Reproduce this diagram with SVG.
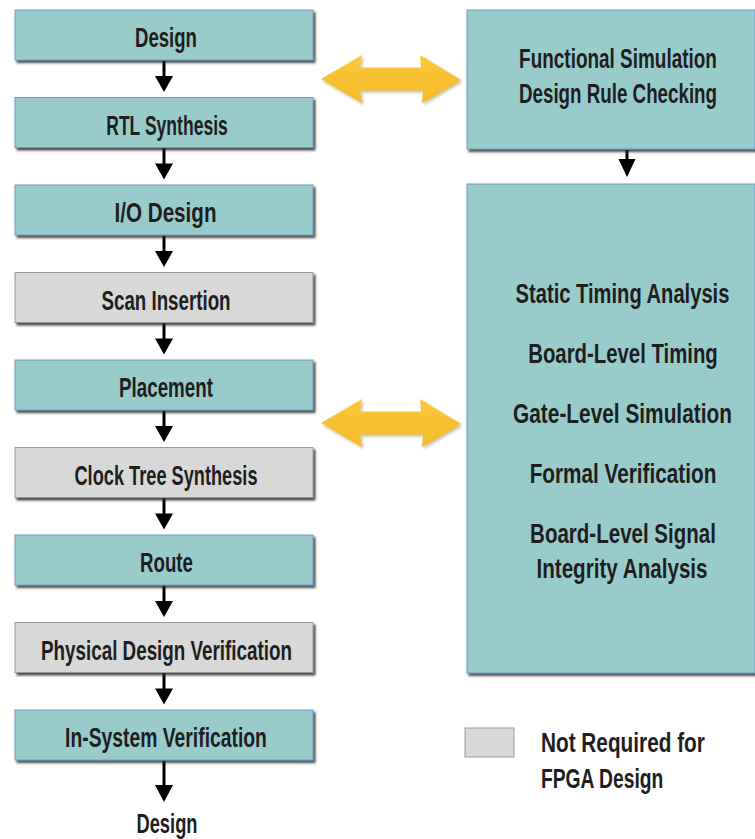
<svg xmlns="http://www.w3.org/2000/svg" width="755" height="839" viewBox="0 0 755 839">
  <defs>
    <filter id="shadow" x="-5%" y="-10%" width="115%" height="130%">
      <feDropShadow dx="2" dy="2.5" stdDeviation="1" flood-color="#2a2a2a" flood-opacity="0.85"/>
    </filter>
    <filter id="softShadow" x="-10%" y="-20%" width="120%" height="150%">
      <feDropShadow dx="1.5" dy="2" stdDeviation="1.5" flood-color="#7a6a30" flood-opacity="0.45"/>
    </filter>
    <linearGradient id="gold" x1="0" y1="0" x2="0" y2="1">
      <stop offset="0" stop-color="#fcc83a"/>
      <stop offset="1" stop-color="#f4b928"/>
    </linearGradient>
  </defs>
  <style>
    .teal { fill: #99cbcb; stroke: #6f9cc4; stroke-width: 1; }
    .grey { fill: #d8d8d8; stroke: #9a9a9a; stroke-width: 1; }
    .box { filter: url(#shadow); }
    /* condensed look: regular sans squeezed horizontally per label */
    .lbl { font-family: "Liberation Sans", Arial, sans-serif; font-weight: bold; font-size: 28px; fill: #1e1e1e; }
    .mid { text-anchor: middle; }
    .flow line { stroke: #000; stroke-width: 3; }
    .flow polygon { fill: #000; }
    .dbl { fill: url(#gold); filter: url(#softShadow); }
  </style>

  <rect width="755" height="839" fill="#ffffff"/>

  <!-- connectors -->
  <g id="connectors" class="flow">
    <line x1="164" y1="60" x2="164" y2="77"/>
    <polygon points="155,76 173,76 164,92"/>
    <line x1="164" y1="147.5" x2="164" y2="164.5"/>
    <polygon points="155,163.5 173,163.5 164,179.5"/>
    <line x1="164" y1="235" x2="164" y2="252"/>
    <polygon points="155,251 173,251 164,267"/>
    <line x1="164" y1="322.5" x2="164" y2="339.5"/>
    <polygon points="155,338.5 173,338.5 164,354.5"/>
    <line x1="164" y1="410" x2="164" y2="427"/>
    <polygon points="155,426 173,426 164,442"/>
    <line x1="164" y1="497.5" x2="164" y2="514.5"/>
    <polygon points="155,513.5 173,513.5 164,529.5"/>
    <line x1="164" y1="585" x2="164" y2="602"/>
    <polygon points="155,601 173,601 164,617"/>
    <line x1="164" y1="672.5" x2="164" y2="689.5"/>
    <polygon points="155,688.5 173,688.5 164,704.5"/>
    <line x1="164" y1="760" x2="164" y2="786"/>
    <polygon points="155,785 173,785 164,802"/>
    <!-- between the two verification panels -->
    <line x1="627" y1="150" x2="627" y2="160"/>
    <polygon points="618.5,159 635.5,159 627,177"/>
    <!-- two-way links to the verification panels -->
    <path class="dbl" d="M321,79 L362,55 L360,67.5 L421,67.5 L420,55 L461,80 L422,103 L423,90.5 L360,90.5 L362,103 Z"/>
    <path class="dbl" transform="translate(0,344)" d="M321,79 L362,55 L360,67.5 L421,67.5 L420,55 L461,80 L422,103 L423,90.5 L360,90.5 L362,103 Z"/>
  </g>

  <!-- design flow steps -->
  <g id="design">
    <rect class="teal box" x="15" y="10" width="298" height="50"/>
    <text class="lbl mid" transform="translate(166,47) scale(0.664,1)">Design</text>
  </g>
  <g id="rtl-synthesis">
    <rect class="teal box" x="15" y="97.5" width="298" height="50"/>
    <text class="lbl mid" transform="translate(167,134.5) scale(0.627,1)">RTL Synthesis</text>
  </g>
  <g id="io-design">
    <rect class="teal box" x="15" y="185" width="298" height="50"/>
    <text class="lbl mid" transform="translate(165.5,222) scale(0.737,1)">I/O Design</text>
  </g>
  <g id="scan-insertion">
    <rect class="grey box" x="15" y="272.5" width="298" height="50"/>
    <text class="lbl mid" transform="translate(166,309.5) scale(0.669,1)">Scan Insertion</text>
  </g>
  <g id="placement">
    <rect class="teal box" x="15" y="360" width="298" height="50"/>
    <text class="lbl mid" transform="translate(166,397) scale(0.671,1)">Placement</text>
  </g>
  <g id="clock-tree-synthesis">
    <rect class="grey box" x="15" y="447.5" width="298" height="50"/>
    <text class="lbl mid" transform="translate(166,484.5) scale(0.65,1)">Clock Tree Synthesis</text>
  </g>
  <g id="route">
    <rect class="teal box" x="15" y="535" width="298" height="50"/>
    <text class="lbl mid" transform="translate(166.5,572) scale(0.668,1)">Route</text>
  </g>
  <g id="physical-design-verification">
    <rect class="grey box" x="15" y="622.5" width="298" height="50"/>
    <text class="lbl mid" transform="translate(166.5,659.5) scale(0.672,1)">Physical Design Verification</text>
  </g>
  <g id="in-system-verification">
    <rect class="teal box" x="15" y="710" width="298" height="50"/>
    <text class="lbl mid" transform="translate(166,747) scale(0.69,1)">In-System Verification</text>
  </g>
  <g id="design-next">
    <text class="lbl mid" transform="translate(167,833) scale(0.655,1)">Design</text>
  </g>

  <!-- verification panels (they run on to the right edge) -->
  <g id="functional-checks">
    <rect class="teal box" x="467" y="10" width="288" height="139"/>
    <text class="lbl mid" transform="translate(618,68) scale(0.677,1)">Functional Simulation</text>
    <text class="lbl mid" transform="translate(618,103) scale(0.67,1)">Design Rule Checking</text>
  </g>
  <g id="timing-checks">
    <rect class="teal box" x="467" y="184" width="288" height="489"/>
    <text class="lbl mid" transform="translate(622.5,303) scale(0.72,1)">Static Timing Analysis</text>
    <text class="lbl mid" transform="translate(623,363) scale(0.727,1)">Board-Level Timing</text>
    <text class="lbl mid" transform="translate(622.5,423) scale(0.745,1)">Gate-Level Simulation</text>
    <text class="lbl mid" transform="translate(623,483) scale(0.741,1)">Formal Verification</text>
    <text class="lbl mid" transform="translate(623,543) scale(0.733,1)">Board-Level Signal</text>
    <text class="lbl mid" transform="translate(622,578) scale(0.737,1)">Integrity Analysis</text>
  </g>

  <!-- legend -->
  <g id="legend">
    <rect class="grey" x="465" y="728" width="49" height="29"/>
    <text class="lbl" transform="translate(541,752) scale(0.742,1)">Not Required for</text>
    <text class="lbl" transform="translate(541,788) scale(0.688,1)">FPGA Design</text>
  </g>
</svg>
